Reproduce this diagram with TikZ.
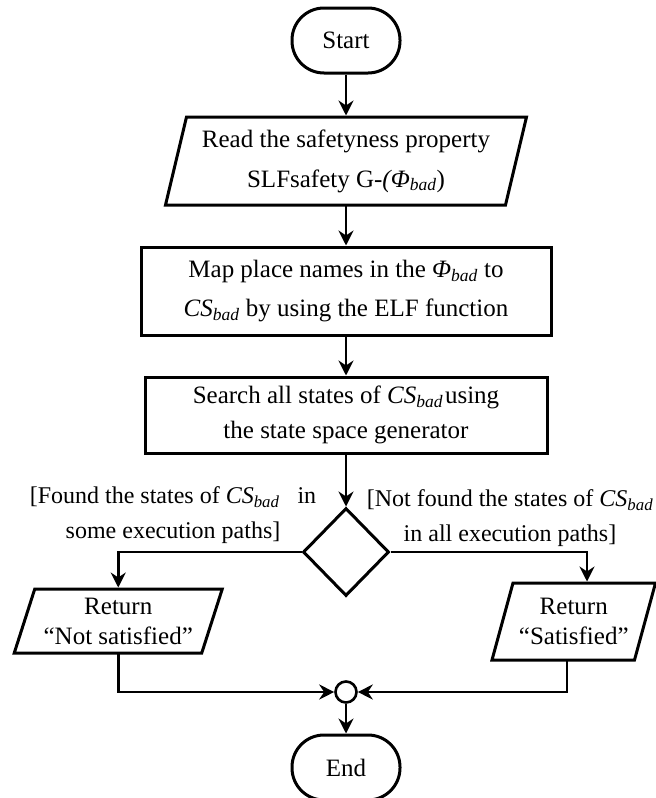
\documentclass[tikz,border=0pt]{standalone}
\usepackage{fontspec}
\setmainfont{Liberation Serif}
\usetikzlibrary{arrows.meta,shapes.geometric}

% italic subscripted symbols used in the flow chart
\newcommand\badsub{\textsubscript{\itshape bad}}
\newcommand\Phibad{\textit{Φ}\badsub}
\newcommand\CSbad{\textit{CS}\badsub}

% slanted input/output frame around an undrawn text node
\newcommand\ioframe[2]{%
  \draw[frame] ([xshift=#2]#1.north west) -- ([xshift=#2]#1.north east)
    -- ([xshift=-#2]#1.south east) -- ([xshift=-#2]#1.south west) -- cycle;}

\begin{document}
\begin{tikzpicture}[x=1pt,y=-1pt,
  frame/.style={line width=3pt, line join=miter},
  txt/.style={font=\fontsize{25}{#1}\selectfont, align=center, inner sep=0pt},
  terminal/.style={draw, frame, txt=30, rectangle, rounded corners=32pt,
    minimum width=108, minimum height=65},
  procbox/.style={draw, frame, rectangle},
  iotext/.style={outer sep=0pt},
  decision/.style={draw, frame, diamond, inner sep=0pt, minimum width=86, minimum height=88},
  junction/.style={draw, line width=2.6pt, circle, inner sep=0pt, minimum size=21},
  guard/.style={font=\fontsize{24}{35}\selectfont, align=center, inner sep=0pt},
  conn/.style={line width=2.6pt, -{Stealth[length=15pt, width=15pt, inset=5pt]}},
  toio/.style={conn, shorten >=1.5pt},
]
\useasboundingbox (0,0) rectangle (656,798);

% nodes
\node[terminal] (start) at (346,40.5) {Start};
\node[iotext, txt=40, minimum width=340, minimum height=88] (read) at (346,161)
  {Read the safetyness property\\SLFsafety G-\textit{(Φ}\badsub)};
\ioframe{read}{10.5}
\node[procbox, txt=39, minimum width=410, minimum height=88] (map) at (346,291)
  {Map place names in the \Phibad{} to\\\CSbad{} by using the ELF function};
\node[procbox, txt=35, minimum width=402, minimum height=76] (search) at (346,415)
  {Search all states of \CSbad\hspace{2pt}using\\the state space generator};
\node[decision] (dec) at (346,552) {};
\node[iotext, txt=30, minimum width=187.5, minimum height=64] (notsat) at (118.25,621)
  {Return\\“Not satisfied”};
\ioframe{notsat}{10.25}
\node[iotext, txt=30, minimum width=142.5, minimum height=77] (sat) at (573.75,621.5)
  {Return\\“Satisfied”};
\ioframe{sat}{10.5}
\node[junction] (merge) at (346,692) {};
\node[terminal] (end) at (346,767.5) {End};

% branch conditions
\node[guard] (lfound) at (173,515.5) {[Found the states of \CSbad\ \ \ in\\some execution paths]};
\node[guard] (lnot) at (510,518.5) {[Not found the states of \CSbad\\in all execution paths]};

% connectors
\draw[toio] (start) -- (read);
\draw[conn] (read.south) -- (map);
\draw[conn] (map) -- (search);
\draw[conn] (search) -- (dec);
\draw[toio] (dec.west) -| (notsat.north);
\draw[toio] (dec.east) -| ([xshift=13.25]sat.north);
\draw[conn] (notsat.south) |- (merge.west);
\draw[conn] ([xshift=-6.75]sat.south) |- (merge.east);
\draw[conn] (merge) -- (end);
\end{tikzpicture}
\end{document}
